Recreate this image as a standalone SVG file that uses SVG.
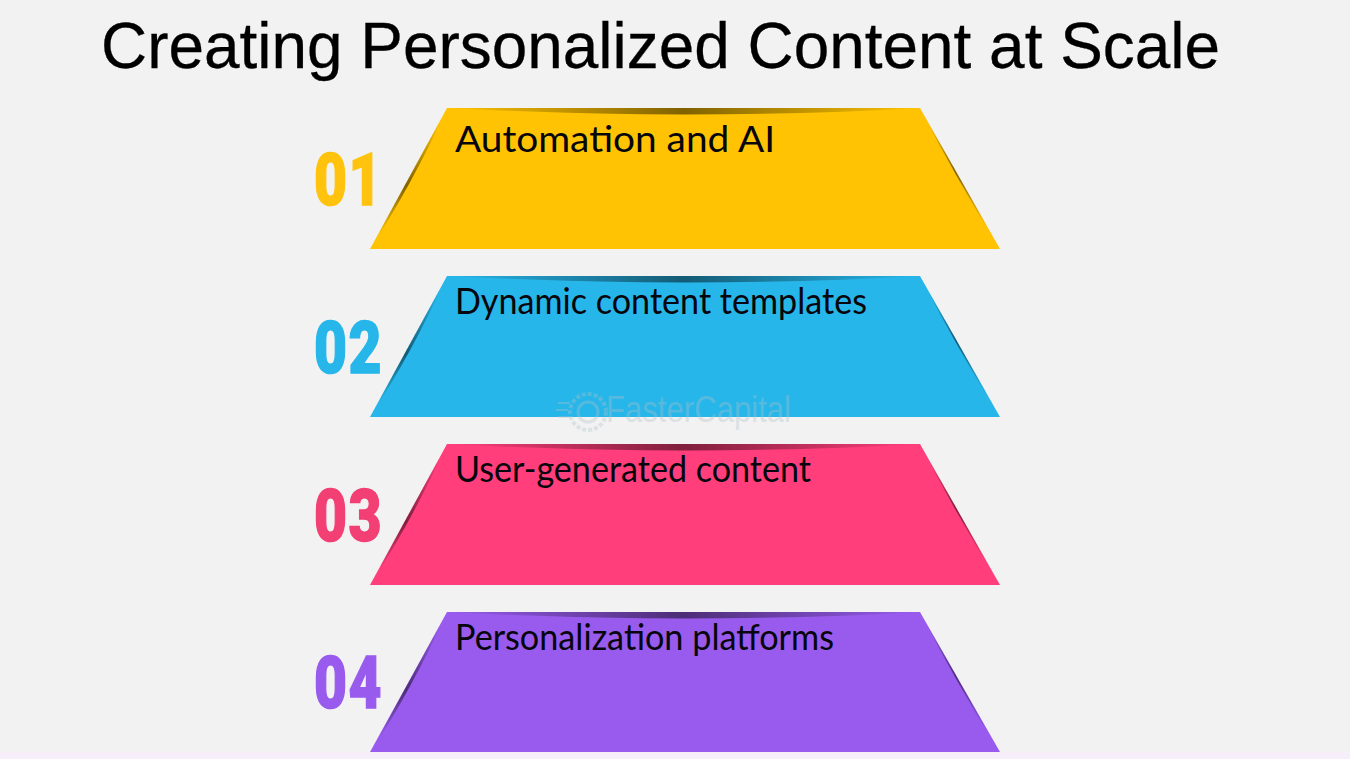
<svg xmlns="http://www.w3.org/2000/svg" xmlns:xlink="http://www.w3.org/1999/xlink" width="1350" height="759" viewBox="0 0 1350 759">
<style>
.title{font-family:"Liberation Sans",Arial,sans-serif;font-size:64px;fill:#000;stroke:#000;stroke-width:.3}
.lab{font-family:Lato,"Open Sans",sans-serif;font-size:37px;fill:#06060c}
.num{font-family:Roboto,"Liberation Sans",sans-serif;font-weight:900;font-size:73px;letter-spacing:2px;stroke-width:1.5}
.wm{font-family:"Liberation Sans",sans-serif;font-size:37px;fill:#b4c0c8;opacity:.34}
.wmg{fill:none;stroke:#b4c0c8;opacity:.34}
</style>
<defs>
<linearGradient id="top" x1="0" x2="1" y1="0" y2="0">
<stop offset="0" stop-color="#000" stop-opacity="0"/>
<stop offset=".5" stop-color="#000" stop-opacity=".5"/>
<stop offset="1" stop-color="#000" stop-opacity="0"/>
</linearGradient>
<linearGradient id="left" x1="0" x2="0" y1="0" y2="1">
<stop offset=".1" stop-color="#000" stop-opacity="0"/>
<stop offset=".55" stop-color="#000" stop-opacity=".5"/>
<stop offset=".9" stop-color="#000" stop-opacity="0"/>
</linearGradient>
<linearGradient id="right" x1="0" x2="0" y1="0" y2="1">
<stop offset=".1" stop-color="#000" stop-opacity="0"/>
<stop offset=".45" stop-color="#000" stop-opacity=".5"/>
<stop offset=".85" stop-color="#000" stop-opacity="0"/>
</linearGradient>
<g id="shade">
<path d="M447 108H920Q690 121 447 108Z" fill="url(#top)"/>
<path d="M447 108L370 249Q412 185 447 108Z" fill="url(#left)"/>
<path d="M920 108L1000 249Q957 180 920 108Z" fill="url(#right)"/>
</g>
</defs>
<rect width="1350" height="759" fill="#f2f2f2"/>
<rect y="752" width="1350" height="7" fill="#f6effa"/>
<text class="title" x="101" y="68" textLength="1119" lengthAdjust="spacingAndGlyphs">Creating Personalized Content at Scale</text>
<g id="connectors"></g>
<g id="node-1">
<path d="M447 108H920L1000 249H370Z" fill="#ffc303"/>
<use xlink:href="#shade"/>
<text class="lab" x="455" y="152" textLength="320" lengthAdjust="spacingAndGlyphs">Automation and AI</text>
<text class="num" fill="#ffc30d" stroke="#ffc30d" transform="translate(314 205) scale(.78 1)">01</text>
</g>
<g id="node-2">
<path d="M447 276H920L1000 417H370Z" fill="#27b6ea"/>
<use xlink:href="#shade" y="168"/>
<text class="lab" x="455" y="314" textLength="412" lengthAdjust="spacingAndGlyphs">Dynamic content templates</text>
<text class="num" fill="#27b6ea" stroke="#27b6ea" transform="translate(314 373) scale(.78 1)">02</text>
</g>
<g id="node-3">
<path d="M447 444H920L1000 585H370Z" fill="#ff3e7b"/>
<use xlink:href="#shade" y="336"/>
<text class="lab" x="455" y="482" textLength="356" lengthAdjust="spacingAndGlyphs">User-generated content</text>
<text class="num" fill="#f23f74" stroke="#f23f74" transform="translate(314 541) scale(.78 1)">03</text>
</g>
<g id="node-4">
<path d="M447 612H920L1000 752H370Z" fill="#985bed"/>
<use xlink:href="#shade" y="504"/>
<text class="lab" x="455" y="650" textLength="379" lengthAdjust="spacingAndGlyphs">Personalization platforms</text>
<text class="num" fill="#985bed" stroke="#985bed" transform="translate(314 708) scale(.78 1)">04</text>
</g>
<g id="watermark">
<circle class="wmg" cx="588" cy="412" r="18" stroke-width="4" stroke-dasharray="4 2"/>
<circle class="wmg" cx="588" cy="412" r="10" stroke-width="3"/>
<path class="wmg" d="M558 403H570M556 410H568M558 417H570" stroke-width="2"/>
<text class="wm" x="606" y="422" textLength="185" lengthAdjust="spacingAndGlyphs">FasterCapital</text>
</g>
</svg>
